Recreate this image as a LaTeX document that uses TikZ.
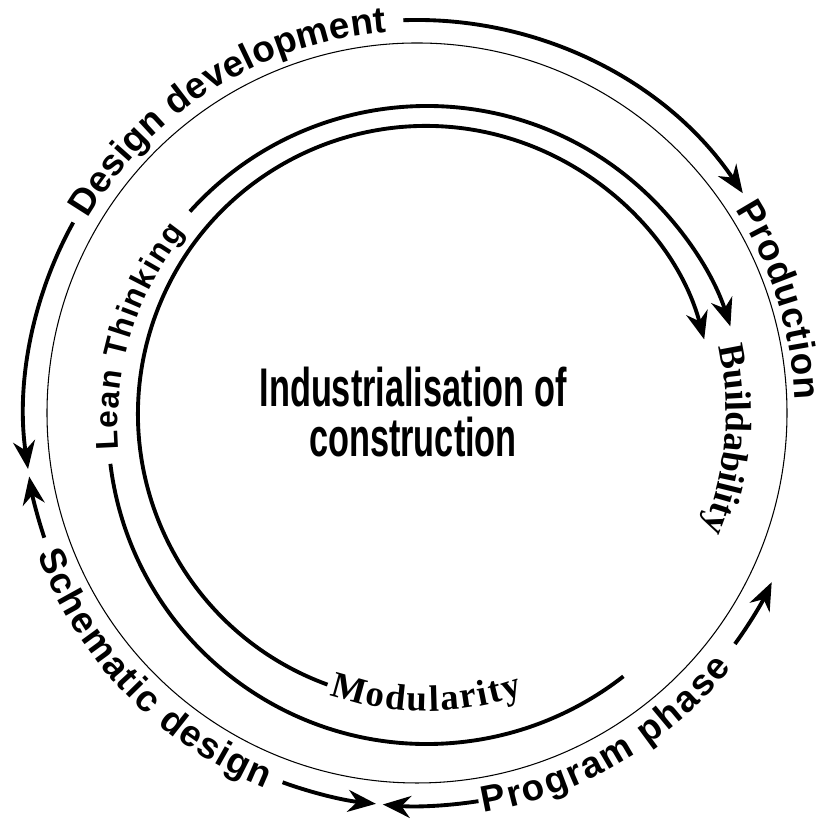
\documentclass[tikz,border=0pt]{standalone}
\usepackage{fontspec}
\setmainfont{Liberation Serif}
\setsansfont{Liberation Sans}
\newfontfamily\narrowfont[FakeStretch=0.63]{Liberation Sans}
\usetikzlibrary{arrows.meta,decorations.text}

\newcommand{\phasefont}{\fontsize{21}{21}\selectfont\sffamily\bfseries}
\newcommand{\leanfont}{\fontsize{18}{18}\selectfont\sffamily\bfseries}
\newcommand{\topicfont}{\fontsize{21}{21}\selectfont\rmfamily\bfseries}

\tikzset{
	ring/.style={line width=2.2pt},
	ringarrow/.style={ring, -{Stealth[length=0.56cm, width=0.44cm]}},
	arclabel/.style={decorate, decoration={text along path, text align={fit to path}, text={#1}}}
}

\begin{document}
\begin{tikzpicture}[x=0.02cm, y=0.02cm]
	\useasboundingbox (0,0) rectangle (823,820);
	% Ring centres
	\coordinate (outer) at (417,407);
	\coordinate (middle) at (427,395);
	\coordinate (inner) at (426,406);
	
	% Title
	\node [align=center, inner sep=0pt, font={\narrowfont\bfseries\fontsize{31}{28.5}\selectfont}] (title) at (413,408) {Industrialisation of\\construction};
	
	% Outer ring: project phases
	\draw [line width=0.6pt] (outer) circle [radius=370];
	\begin{scope}[shift={(outer)}]
		\path [arclabel=|\phasefont|Design development] (149.5:382) arc [start angle=149.5, end angle=94.5, radius=382];
		\path [arclabel=|\phasefont|Production] (32.5:378) arc [start angle=32.5, end angle=2, radius=378];
		\path [arclabel=|\phasefont|Schematic design] (200.5:405) arc [start angle=200.5, end angle=248, radius=405];
		\path [arclabel=|\phasefont|Program phase] (279.5:405) arc [start angle=279.5, end angle=321, radius=405];
		\draw [ringarrow] (92:393) arc [start angle=92, end angle=34, radius=393];
		\draw [ringarrow] (151:393) arc [start angle=151, end angle=188.2, radius=393];
		\draw [ringarrow] (198.5:393) arc [start angle=198.5, end angle=189.3, radius=393];
		\draw [ringarrow] (250:393) arc [start angle=250, end angle=264, radius=393];
		\draw [ringarrow] (279:393) arc [start angle=279, end angle=265, radius=393];
		\draw [ringarrow] (324:393) arc [start angle=324, end angle=334.5, radius=393];
	\end{scope}
	
	% Middle ring
	\begin{scope}[shift={(middle)}]
		\path [arclabel=|\leanfont|Lean Thinking] (184.5:309) arc [start angle=184.5, end angle=141.5, radius=309];
		\draw [ringarrow] (138:319) arc [start angle=138, end angle=18, radius=319];
		\draw [ring] (187:319) arc [start angle=187, end angle=308, radius=319];
	\end{scope}
	
	% Inner ring
	\begin{scope}[shift={(inner)}]
		\draw [ringarrow] (250:288) arc [start angle=250, end angle=15, radius=288];
		\path [arclabel=|\topicfont|Modularity] (251:297) arc [start angle=251, end angle=289, radius=297];
		\path [arclabel=|\topicfont|Buildability] (13:300) arc [start angle=13, end angle=-21, radius=300];
	\end{scope}
\end{tikzpicture}
\end{document}
